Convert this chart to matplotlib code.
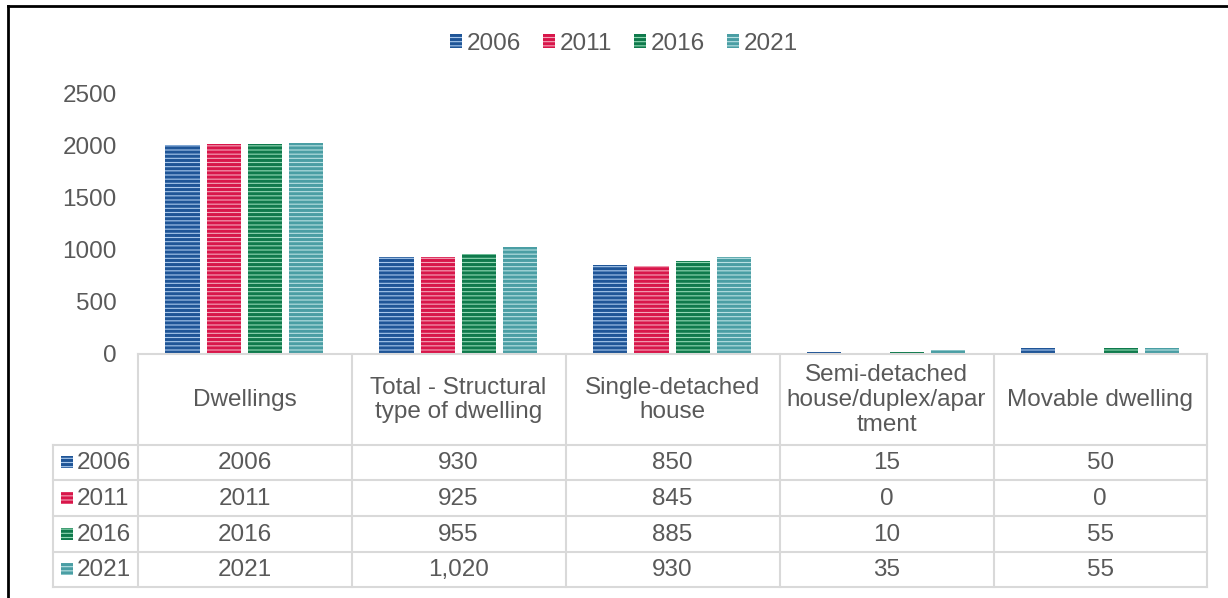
import numpy as np
import matplotlib.pyplot as plt
from matplotlib.patches import Rectangle, Patch
from matplotlib.lines import Line2D

plt.rcParams['font.family'] = ['Liberation Sans', 'DejaVu Sans']
plt.rcParams['hatch.linewidth'] = 2.2

# data
categories = ['Dwellings', 'Total - Structural\ntype of dwelling', 'Single-detached\nhouse',
              'Semi-detached\nhouse/duplex/apar\ntment', 'Movable dwelling']
years = ['2006', '2011', '2016', '2021']
v2006 = [2006, 930, 850, 15, 50]
v2011 = [2011, 925, 845, 0, 0]
v2016 = [2016, 955, 885, 10, 55]
v2021 = [2021, 1020, 930, 35, 55]
cell_text = [['2006', '930', '850', '15', '50'],
             ['2011', '925', '845', '0', '0'],
             ['2016', '955', '885', '10', '55'],
             ['2021', '1,020', '930', '35', '55']]
series = [v2006, v2011, v2016, v2021]

dark = ['#1f5597', '#d8164a', '#0f7a4c', '#4a9ea4']
light = ['#a9c8ec', '#f4a6ba', '#92d8b4', '#b9e1e3']
txt = '#595959'
grid = '#d9d9d9'
fs = 17.5

W, H = 1228, 598
fig = plt.figure(figsize=(W / 100, H / 100), dpi=100)

# bar area in pixels
x0, x1 = 137.5, 1207
ytop, ybot = 93.2, 353.5
ax = fig.add_axes([x0 / W, 1 - ybot / H, (x1 - x0) / W, (ybot - ytop) / H])

idx = np.arange(len(categories))
step, bw = 0.193, 0.16
for j, vals in enumerate(series):
    ax.bar(idx + (j - 1.5) * step, vals, width=bw, facecolor=light[j],
           edgecolor=dark[j], linewidth=0, hatch='----')

ax.set_xlim(-0.5, len(categories) - 0.5)
ax.set_ylim(0, 2500)
ax.set_yticks([0, 500, 1000, 1500, 2000, 2500])
ax.set_xticks([])
ax.tick_params(axis='y', length=0, pad=15, labelsize=fs, labelcolor=txt)
for s in ax.spines.values():
    s.set_visible(False)

# legend
handles = [Patch(facecolor=light[j], edgecolor=dark[j], linewidth=0, hatch='----')
           for j in range(4)]
fig.legend(handles, years, loc='center', bbox_to_anchor=(624 / W, 1 - 43.5 / H), ncol=4,
           frameon=False, fontsize=fs, labelcolor=txt, handlelength=0.5, handleheight=0.5,
           handletextpad=0.2, columnspacing=0.9)

# table drawn in pixel coordinates
tb = fig.add_axes([0, 0, 1, 1])
tb.set_xlim(0, W)
tb.set_ylim(H, 0)
tb.axis('off')

col_x = [137.5, 351.5, 565.5, 779.5, 993.5, 1207]
row_y = [353.5, 444.5, 480, 516, 551.5, 586.5]
left = 52.5
lw = 1.5

tb.plot([col_x[0], col_x[-1]], [row_y[0], row_y[0]], color=grid, lw=lw)
for y in row_y[1:]:
    tb.plot([left, col_x[-1]], [y, y], color=grid, lw=lw)
for x in col_x:
    tb.plot([x, x], [row_y[0], row_y[-1]], color=grid, lw=lw)
tb.plot([left, left], [row_y[1], row_y[-1]], color=grid, lw=lw)

for i, name in enumerate(categories):
    cx = (col_x[i] + col_x[i + 1]) / 2
    tb.text(cx, (row_y[0] + row_y[1]) / 2 + 1, name, ha='center', va='center',
            fontsize=fs, color=txt, linespacing=1.17)

for r in range(4):
    cy = (row_y[r + 1] + row_y[r + 2]) / 2
    tb.add_patch(Rectangle((60.5, cy - 6), 12, 12, facecolor=light[r], edgecolor=dark[r],
                           linewidth=0, hatch='----'))
    tb.text(77, cy + 1, years[r], ha='left', va='center', fontsize=fs, color=txt)
    for i in range(len(categories)):
        cx = (col_x[i] + col_x[i + 1]) / 2
        tb.text(cx, cy + 1, cell_text[r][i], ha='center', va='center', fontsize=fs, color=txt)

# outer frame lines (top and left)
tb.add_line(Line2D([7.5, W], [5.5, 5.5], color='black', lw=2))
tb.add_line(Line2D([7.5, 7.5], [5.5, H], color='black', lw=2))

fig.savefig('out.png', dpi=100)
